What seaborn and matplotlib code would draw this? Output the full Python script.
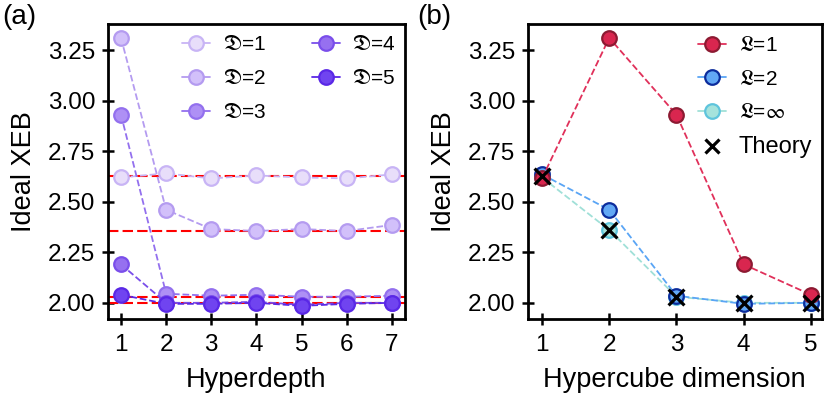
import matplotlib
matplotlib.use("Agg")
import matplotlib.pyplot as plt
from matplotlib.lines import Line2D
import seaborn as sns

# (a) ideal XEB vs hyperdepth, one series per hypercube dimension D
hyperdepth = [1, 2, 3, 4, 5, 6, 7]
xeb_d1 = [2.62, 2.64, 2.615, 2.63, 2.62, 2.615, 2.635]
xeb_d2 = [3.31, 2.46, 2.365, 2.355, 2.365, 2.355, 2.385]
xeb_d3 = [2.93, 2.045, 2.035, 2.04, 2.03, 2.03, 2.035]
xeb_d4 = [2.19, 2.00, 2.00, 2.005, 1.99, 2.00, 2.00]
xeb_d5 = [2.04, 1.995, 1.995, 2.00, 1.985, 1.995, 2.00]
theory_lines = [2.625, 2.355, 2.03, 2.00]

# (b) ideal XEB vs hypercube dimension
dimension = [1, 2, 3, 4, 5]
xeb_l1 = [2.615, 3.31, 2.93, 2.19, 2.04]
xeb_l2 = [2.635, 2.46, 2.035, 1.995, 2.00]
xeb_linf = [2.62, 2.36, 2.03, 2.00, 2.00]
xeb_theory = [2.625, 2.36, 2.03, 2.00, 2.00]

sns.set_style("ticks")
plt.rcParams['font.family'] = ['Liberation Sans', 'DejaVu Sans']
plt.rcParams['mathtext.fontset'] = 'stix'
plt.rcParams['text.color'] = 'black'
plt.rcParams['axes.labelcolor'] = 'black'
plt.rcParams['xtick.color'] = 'black'
plt.rcParams['ytick.color'] = 'black'
plt.rcParams['axes.edgecolor'] = 'black'

fig = plt.figure(figsize=(8.3, 3.99), dpi=100)
ax1 = fig.add_axes([0.130, 0.2005, 0.358, 0.739])
ax2 = fig.add_axes([0.636, 0.2005, 0.354, 0.739])

# purple shades: (face, edge)
purples = [("#e8defa", "#c8b4f5"), ("#d2c0fa", "#b49bf0"), ("#ae90f5", "#9370ee"),
           ("#9670f0", "#7a4eea"), ("#7044f0", "#5a28e6")]
series_a = [xeb_d1, xeb_d2, xeb_d3, xeb_d4, xeb_d5]

for y in theory_lines:
    ax1.axhline(y, color="red", ls=(0, (5, 2)), lw=1.5, zorder=1)

handles_a = []
for i, (vals, (fc, ec)) in enumerate(zip(series_a, purples)):
    sns.lineplot(x=hyperdepth, y=vals, ax=ax1, color=ec, linestyle="--", lw=1.3,
                 marker="o", markersize=10.5, markerfacecolor=fc, markeredgecolor=ec,
                 markeredgewidth=1.6, legend=False, zorder=3 + i)
    handles_a.append(Line2D([], [], color=ec, lw=1.3, marker="o", markersize=10.5,
                            markerfacecolor=fc, markeredgecolor=ec, markeredgewidth=1.6,
                            label=r"$\mathfrak{D}$=%d" % (i + 1)))

ax1.set_xlim(0.71, 7.29)
ax1.set_ylim(1.92, 3.378)
ax1.set_xticks(hyperdepth)
ax1.set_yticks([2.0, 2.25, 2.5, 2.75, 3.0, 3.25])
ax1.set_xlabel("Hyperdepth", fontsize=19.5, labelpad=8)
ax1.set_ylabel("Ideal XEB", fontsize=19.5, labelpad=8)
ax1.legend(handles=handles_a, ncol=2, frameon=False, fontsize=15, loc="upper right",
           bbox_to_anchor=(1.0, 0.995), handlelength=1.35, columnspacing=2.2,
           labelspacing=0.72, handletextpad=0.6, borderaxespad=0.05)

# panel (b)
styles_b = [(xeb_l1, "#d9264f", "#8c1a32", "#e0305a", r"$\mathfrak{L}$=1"),
            (xeb_l2, "#62a8f5", "#0c2c9c", "#5aa5f5", r"$\mathfrak{L}$=2"),
            (xeb_linf, "#a5e3dc", "#5ec4dc", "#a0e0d8", r"$\mathfrak{L}$=$\infty$")]
handles_b = []
for i, (vals, fc, ec, lc, lab) in enumerate(styles_b):
    sns.lineplot(x=dimension, y=vals, ax=ax2, color=lc, linestyle="--", lw=1.3,
                 marker="o", markersize=10.5, markerfacecolor=fc, markeredgecolor=ec,
                 markeredgewidth=1.6, legend=False, zorder=5 - i)
    handles_b.append(Line2D([], [], color=lc, lw=1.3, marker="o", markersize=10.5,
                            markerfacecolor=fc, markeredgecolor=ec, markeredgewidth=1.6,
                            label=lab))
sns.scatterplot(x=dimension, y=xeb_theory, ax=ax2, marker="x", s=130, color="black",
                linewidth=2.3, zorder=10, legend=False)
handles_b.append(Line2D([], [], color="black", lw=0, marker="x", markersize=10,
                        markeredgewidth=2.3, label="Theory"))

ax2.set_xlim(0.79, 5.16)
ax2.set_ylim(1.92, 3.378)
ax2.set_xticks(dimension)
ax2.set_yticks([2.0, 2.25, 2.5, 2.75, 3.0, 3.25])
ax2.set_xlabel("Hypercube dimension", fontsize=19.5, labelpad=8)
ax2.set_ylabel("Ideal XEB", fontsize=19.5, labelpad=8)
leg_b = ax2.legend(handles=handles_b, frameon=False, fontsize=15, loc="upper right",
                   bbox_to_anchor=(1.0, 0.99), handlelength=1.35, labelspacing=0.68,
                   handletextpad=0.6, borderaxespad=0.05)
leg_b.get_texts()[3].set_fontsize(17)

for ax in (ax1, ax2):
    for s in ax.spines.values():
        s.set_linewidth(2.0)
    ax.tick_params(axis="both", direction="inout", length=8, width=1.8, labelsize=17.5)
    ax.tick_params(axis="x", pad=7)
    ax.tick_params(axis="y", pad=5)
    ax.yaxis.set_major_formatter(matplotlib.ticker.FormatStrFormatter("%.2f"))

fig.text(0.003, 0.99, "(a)", fontsize=20, va="top")
fig.text(0.503, 0.99, "(b)", fontsize=20, va="top")

fig.savefig("out.png", dpi=100)
